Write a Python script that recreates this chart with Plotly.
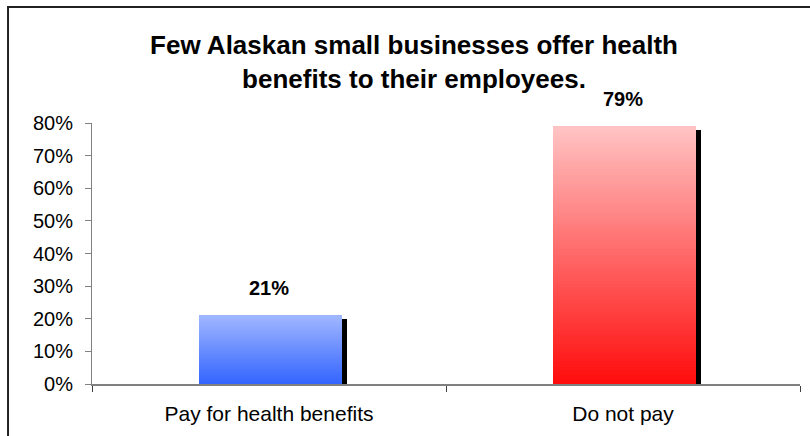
import plotly.graph_objects as go

# Share of Alaskan small businesses by whether they pay for employee health benefits
categories = ["Pay for health benefits", "Do not pay"]
shares = [0.21, 0.79]

# Vertical gradient end-points for each bar (top colour, bottom colour)
top_colors = [(160, 182, 255), (255, 196, 196)]
bottom_colors = [(50, 100, 255), (255, 12, 12)]

y_ticks = [0.0, 0.1, 0.2, 0.3, 0.4, 0.5, 0.6, 0.7, 0.8]

FONT = "Liberation Sans, Arial, sans-serif"
BAR_WIDTH = 0.404
BAR_OFFSET = -0.199
SHADOW_DX = 0.016     # category units
SHADOW_DY = 0.012     # value units
N_SEG = 90            # slices used to paint the gradient


def mix(c_bottom, c_top, t):
    r, g, b = (round(a + (b_ - a) * t) for a, b_ in zip(c_bottom, c_top))
    return f"rgb({r},{g},{b})"


fig = go.Figure()

# Drop shadow behind each bar
fig.add_trace(go.Bar(
    x=categories,
    y=[v - SHADOW_DY for v in shares],
    width=BAR_WIDTH,
    offset=BAR_OFFSET + SHADOW_DX,
    marker=dict(color="black", line=dict(width=0)),
    hoverinfo="skip",
    showlegend=False,
))

# Gradient-filled bars built from stacked slices of each value
for i in range(N_SEG):
    t = (i + 0.5) / N_SEG
    fig.add_trace(go.Bar(
        x=categories,
        y=[v / N_SEG for v in shares],
        base=[v * i / N_SEG for v in shares],
        width=BAR_WIDTH,
        offset=BAR_OFFSET,
        marker=dict(
            color=[mix(bottom_colors[k], top_colors[k], t) for k in range(len(shares))],
            line=dict(width=0),
        ),
        hoverinfo="skip",
        showlegend=False,
    ))

# Value labels above the bars
for cat, v in zip(categories, shares):
    fig.add_annotation(
        x=cat, y=v, xref="x", yref="y",
        text=f"<b>{v:.0%}</b>",
        showarrow=False,
        yanchor="bottom",
        yshift=14,
        font=dict(family=FONT, size=20, color="black"),
    )

# Chart frame
fig.add_shape(
    type="rect", xref="paper", yref="paper",
    x0=-0.1186, x1=1.08, y0=-0.25, y1=1.4444,
    line=dict(color="#222222", width=2),
    fillcolor="rgba(0,0,0,0)",
    layer="below",
)

fig.update_layout(
    width=810, height=436,
    margin=dict(l=92, r=10, t=123, b=52),
    paper_bgcolor="white",
    plot_bgcolor="white",
    barmode="overlay",
    bargap=0,
    font=dict(family=FONT, size=20, color="black"),
    title=dict(
        text="<b>Few Alaskan small businesses offer health<br>benefits to their employees.</b>",
        x=414 / 810, xanchor="center",
        y=1 - 54 / 436, yanchor="top", yref="container",
        font=dict(family=FONT, size=26, color="black"),
    ),
    xaxis=dict(
        type="category",
        range=[-0.5, 1.5],
        tickson="boundaries",
        ticks="outside", ticklen=6, tickwidth=1, tickcolor="#404040",
        showline=True, linecolor="#808080", linewidth=2,
        showgrid=False, zeroline=False,
        tickfont=dict(family=FONT, size=21, color="black"),
        ticklabelstandoff=10,
    ),
    yaxis=dict(
        range=[0, 0.8],
        tickvals=y_ticks,
        tickformat=".0%",
        ticks="outside", ticklen=6, tickwidth=1, tickcolor="#808080",
        showline=True, linecolor="#808080", linewidth=1,
        showgrid=False, zeroline=False,
        tickfont=dict(family=FONT, size=20, color="black"),
        ticklabelstandoff=8,
    ),
)

fig.write_html("out.html")
